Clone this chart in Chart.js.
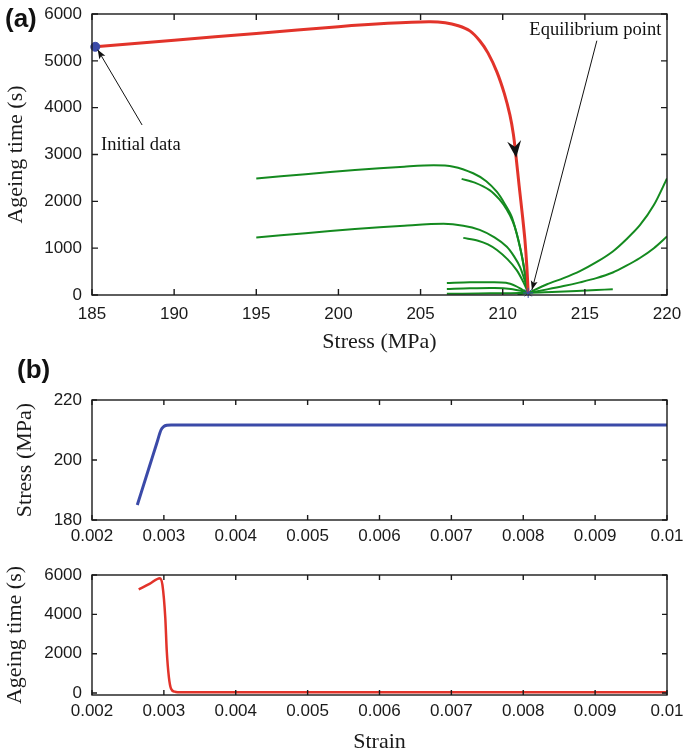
<!DOCTYPE html>
<html>
<head>
<meta charset="utf-8">
<script src="https://cdn.jsdelivr.net/npm/chart.js@4.4.1/dist/chart.umd.min.js"></script>
<style>
  body { margin: 0; background: #fff; }
  #wrap { position: relative; width: 683px; height: 755px; overflow: hidden; }
  canvas, .panel { position: absolute; }
  .panel { font: bold 26px "Liberation Sans", Arial, sans-serif; color: #111; line-height: 1; }
</style>
</head>
<body>
<div id="wrap">
  <canvas id="chartA" width="683" height="360" style="left:0;top:0"></canvas>
  <canvas id="chartB1" width="683" height="165" style="left:0;top:390px"></canvas>
  <canvas id="chartB2" width="683" height="195" style="left:0;top:560px"></canvas>
  <div class="panel" style="left:5px;top:5px">(a)</div>
  <div class="panel" style="left:17px;top:356px">(b)</div>
</div>
<script>
// ---- (a) ageing time vs stress ----
const stressTicks = [185, 190, 195, 200, 205, 210, 215, 220];
const ageTicksA = [0, 1000, 2000, 3000, 4000, 5000, 6000];

const initialStress = [185.2];
const initialTime = [5300];
const eqStress = [211.55];
const eqTime = [45];

// main path (red)
const pathStress = [185.2, 190, 195, 200, 203, 205.5, 206.5, 207.3, 208.0, 208.6, 209.1, 209.65, 210.1, 210.44, 210.65, 210.8, 211.0, 211.2, 211.35, 211.47, 211.55];
const pathTime = [5300, 5440, 5585, 5730, 5800, 5835, 5815, 5750, 5640, 5430, 5170, 4760, 4300, 3840, 3430, 2990, 2330, 1700, 1180, 600, 45];

// other trajectories (green)
const g1Stress = [195, 198, 201, 204, 205.8, 207, 208.2, 209, 209.65, 210.1, 210.55, 210.9, 211.2, 211.4, 211.55];
const g1Time = [2490, 2580, 2670, 2740, 2770, 2740, 2600, 2430, 2200, 1960, 1670, 1240, 780, 380, 45];
const g2Stress = [207.5, 208.3, 209.2, 209.8, 210.25, 210.6, 210.85, 211.1, 211.3, 211.45, 211.55];
const g2Time = [2480, 2400, 2240, 2040, 1820, 1580, 1320, 950, 560, 220, 45];
const g3Stress = [195, 198, 201, 204, 206.4, 207.6, 208.6, 209.5, 210.25, 210.7, 211.05, 211.35, 211.55];
const g3Time = [1230, 1320, 1410, 1480, 1520, 1480, 1390, 1230, 1030, 820, 600, 300, 45];
const g4Stress = [207.6, 208.5, 209.1, 209.65, 210.3, 210.85, 211.25, 211.55];
const g4Time = [1220, 1160, 1080, 960, 760, 530, 280, 45];
const l1Stress = [206.6, 208, 209.3, 210.2, 210.8, 211.2, 211.55];
const l1Time = [255, 270, 272, 260, 190, 110, 45];
const l2Stress = [206.6, 208, 209.5, 210.5, 211.1, 211.55];
const l2Time = [130, 145, 150, 130, 90, 45];
const l3Stress = [206.6, 208.5, 210, 211, 211.55];
const l3Time = [25, 32, 38, 42, 45];
const r1Stress = [211.55, 212.7, 213.7, 214.7, 215.7, 216.7, 217.5, 218.35, 219.2, 220];
const r1Time = [45, 230, 360, 510, 700, 930, 1180, 1490, 1920, 2490];
const r2Stress = [211.55, 212.7, 213.7, 214.7, 215.7, 216.7, 217.5, 218.35, 219.2, 220];
const r2Time = [45, 120, 190, 270, 360, 480, 620, 790, 1000, 1250];
const r3Stress = [210.9, 211.55, 213, 214.5, 215.7, 216.7];
const r3Time = [10, 45, 65, 85, 105, 125];

// ---- (b) stress / ageing time vs strain ----
const strainTicks = [0.002, 0.003, 0.004, 0.005, 0.006, 0.007, 0.008, 0.009, 0.01];
const stressTicksB = [180, 200, 220];
const ageTicksB = [0, 2000, 4000, 6000];

const curveStrain = [0.00263, 0.0028, 0.0029, 0.00296, 0.0030, 0.00304, 0.0031, 0.01];
const curveStress = [185, 197.9, 205.5, 210, 211.2, 211.6, 211.7, 211.7];

const ageStrain = [0.00265, 0.0028, 0.002945, 0.00298, 0.00302, 0.00304, 0.00307, 0.0031, 0.00315, 0.0032, 0.0033, 0.004, 0.01];
const ageTime = [5270, 5550, 5840, 5500, 3800, 2150, 800, 220, 70, 45, 40, 40, 40];

const SANS = '"Liberation Sans", Arial, sans-serif';
const SERIF = '"Liberation Serif", "Times New Roman", serif';
const INK = '#1a1a1a';
const RED = '#e2332a';
const GREEN = '#148a1f';
const BLUE = '#3b4aa8';

const pts = (xs, ys) => xs.map((x, i) => ({ x, y: ys[i] }));

function fixedAxis(size, horizontal) {
  return s => {
    if (horizontal) s.height = size; else s.width = size;
    s.paddingLeft = s.paddingRight = s.paddingTop = s.paddingBottom = 0;
  };
}
function setTicks(values) {
  return s => { s.ticks = values.map(v => ({ value: v })); };
}

// matlab style box with inward ticks on all sides
const matlabBox = {
  id: 'matlabBox',
  afterDatasetsDraw(chart, args, opts) {
    const { ctx, chartArea: a, scales: { x, y } } = chart;
    const len = opts.tickLen || 5;
    ctx.save();
    ctx.strokeStyle = INK;
    ctx.lineWidth = 1.4;
    ctx.strokeRect(a.left, a.top, a.right - a.left, a.bottom - a.top);
    ctx.beginPath();
    x.ticks.forEach(t => {
      const p = x.getPixelForValue(t.value);
      ctx.moveTo(p, a.bottom); ctx.lineTo(p, a.bottom - len);
      ctx.moveTo(p, a.top); ctx.lineTo(p, a.top + len);
    });
    y.ticks.forEach(t => {
      const p = y.getPixelForValue(t.value);
      ctx.moveTo(a.left, p); ctx.lineTo(a.left + len, p);
      ctx.moveTo(a.right, p); ctx.lineTo(a.right - len, p);
    });
    ctx.stroke();
    ctx.restore();
  }
};

function arrowHead(ctx, x, y, angle, len, half, notch) {
  ctx.save();
  ctx.translate(x, y);
  ctx.rotate(angle);
  ctx.beginPath();
  ctx.moveTo(0, 0);
  ctx.lineTo(-len, -half);
  ctx.lineTo(-len + notch, 0);
  ctx.lineTo(-len, half);
  ctx.closePath();
  ctx.fill();
  ctx.restore();
}

// annotation anchors (data units)
const initialNote = { text: 'Initial data', x: 185.55, y: 3210, from: [188.05, 3630], to: [185.35, 5235] };
const eqNote = { text: 'Equilibrium point', x: 211.62, y: 5662, from: [215.73, 5430], to: [211.78, 110] };
const pathArrow = { from: [210.65, 3430], to: [210.82, 2930] };

const notes = {
  id: 'notes',
  afterDatasetsDraw(chart) {
    const { ctx, scales: { x, y } } = chart;
    const px = p => [x.getPixelForValue(p[0]), y.getPixelForValue(p[1])];
    ctx.save();
    ctx.fillStyle = '#111';
    ctx.strokeStyle = '#111';
    ctx.lineWidth = 1;
    ctx.font = '18.5px ' + SERIF;
    ctx.textBaseline = 'middle';
    ctx.textAlign = 'left';
    [initialNote, eqNote].forEach(n => {
      ctx.fillText(n.text, x.getPixelForValue(n.x), y.getPixelForValue(n.y));
      const [x0, y0] = px(n.from), [x1, y1] = px(n.to);
      ctx.beginPath(); ctx.moveTo(x0, y0); ctx.lineTo(x1, y1); ctx.stroke();
      arrowHead(ctx, x1, y1, Math.atan2(y1 - y0, x1 - x0), 9, 3.5, 2);
    });
    const [a0, b0] = px(pathArrow.from), [a1, b1] = px(pathArrow.to);
    arrowHead(ctx, a1, b1, Math.atan2(b1 - b0, a1 - a0), 17, 7, 6);
    ctx.restore();
  }
};

function axisTitle(text, pad) {
  return { display: true, text, color: INK, font: { family: SERIF, size: 22 }, padding: pad };
}
function tickOpts(pad, fmt) {
  return { color: INK, font: { family: SANS, size: 17 }, padding: pad, maxRotation: 0, autoSkip: false, callback: fmt };
}
const plain = v => String(v);
const strainFmt = v => String(+v.toFixed(3));

function smoothLine(xs, ys, color, width) {
  return { data: pts(xs, ys), borderColor: color, borderWidth: width, pointRadius: 0, showLine: true, tension: 0.3 };
}
const greenLine = (xs, ys) => smoothLine(xs, ys, GREEN, 2);

new Chart(document.getElementById('chartA'), {
  type: 'scatter',
  data: {
    datasets: [
      { data: pts(initialStress, initialTime), pointRadius: 4.5, pointBackgroundColor: BLUE, pointBorderColor: BLUE, clip: false },
      { data: pts(eqStress, eqTime), pointStyle: 'star', pointRadius: 5, pointBorderColor: BLUE, pointBorderWidth: 1, clip: false },
      smoothLine(pathStress, pathTime, RED, 3),
      greenLine(g1Stress, g1Time),
      greenLine(g2Stress, g2Time),
      greenLine(g3Stress, g3Time),
      greenLine(g4Stress, g4Time),
      greenLine(l1Stress, l1Time),
      greenLine(l2Stress, l2Time),
      greenLine(l3Stress, l3Time),
      greenLine(r1Stress, r1Time),
      greenLine(r2Stress, r2Time),
      greenLine(r3Stress, r3Time)
    ]
  },
  options: {
    responsive: false,
    animation: false,
    layout: { autoPadding: false, padding: { top: 14, right: 16, left: 0, bottom: 0 } },
    plugins: { legend: { display: false }, tooltip: { enabled: false }, matlabBox: { tickLen: 6 } },
    scales: {
      x: {
        type: 'linear', min: 185, max: 220,
        afterBuildTicks: setTicks(stressTicks), afterFit: fixedAxis(65, true),
        grid: { display: false, drawTicks: false }, border: { display: false },
        ticks: tickOpts(9, plain),
        title: axisTitle('Stress (MPa)', { top: 0, bottom: 5 })
      },
      y: {
        type: 'linear', min: 0, max: 6000,
        afterBuildTicks: setTicks(ageTicksA), afterFit: fixedAxis(92, false),
        grid: { display: false, drawTicks: false }, border: { display: false },
        ticks: tickOpts(10, plain),
        title: axisTitle('Ageing time (s)', { top: 3, bottom: 0 })
      }
    }
  },
  plugins: [matlabBox, notes]
});

new Chart(document.getElementById('chartB1'), {
  type: 'scatter',
  data: {
    datasets: [
      { data: pts(curveStrain, curveStress), borderColor: BLUE, borderWidth: 3, pointRadius: 0, showLine: true, cubicInterpolationMode: 'monotone' }
    ]
  },
  options: {
    responsive: false,
    animation: false,
    layout: { autoPadding: false, padding: { top: 10, right: 16, left: 0, bottom: 0 } },
    plugins: { legend: { display: false }, tooltip: { enabled: false }, matlabBox: { tickLen: 5 } },
    scales: {
      x: {
        type: 'linear', min: 0.002, max: 0.01,
        afterBuildTicks: setTicks(strainTicks), afterFit: fixedAxis(35, true),
        grid: { display: false, drawTicks: false }, border: { display: false },
        ticks: tickOpts(6, strainFmt)
      },
      y: {
        type: 'linear', min: 180, max: 220,
        afterBuildTicks: setTicks(stressTicksB), afterFit: fixedAxis(92, false),
        grid: { display: false, drawTicks: false }, border: { display: false },
        ticks: tickOpts(10, plain),
        title: axisTitle('Stress (MPa)', { top: 12, bottom: 0 })
      }
    }
  },
  plugins: [matlabBox]
});

new Chart(document.getElementById('chartB2'), {
  type: 'scatter',
  data: {
    datasets: [
      { data: pts(ageStrain, ageTime), borderColor: RED, borderWidth: 2.5, pointRadius: 0, showLine: true, cubicInterpolationMode: 'monotone' }
    ]
  },
  options: {
    responsive: false,
    animation: false,
    layout: { autoPadding: false, padding: { top: 15, right: 16, left: 0, bottom: 0 } },
    plugins: { legend: { display: false }, tooltip: { enabled: false }, matlabBox: { tickLen: 5 } },
    scales: {
      x: {
        type: 'linear', min: 0.002, max: 0.01,
        afterBuildTicks: setTicks(strainTicks), afterFit: fixedAxis(60, true),
        grid: { display: false, drawTicks: false }, border: { display: false },
        ticks: tickOpts(6, strainFmt),
        title: axisTitle('Strain', { top: 0, bottom: 0 })
      },
      y: {
        type: 'linear', min: -100, max: 6000,
        afterBuildTicks: setTicks(ageTicksB), afterFit: fixedAxis(92, false),
        grid: { display: false, drawTicks: false }, border: { display: false },
        ticks: tickOpts(10, plain),
        title: axisTitle('Ageing time (s)', { top: 2, bottom: 0 })
      }
    }
  },
  plugins: [matlabBox]
});
</script>
</body>
</html>
